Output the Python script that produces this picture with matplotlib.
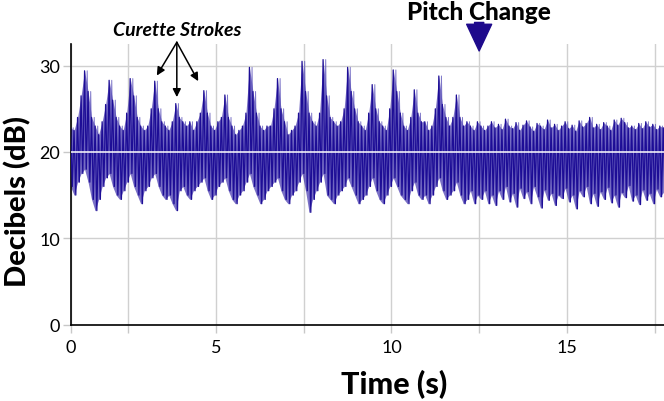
import numpy as np
import matplotlib.pyplot as plt

# envelope of the recorded signal, read per 0.1 s bin (dB)
T0, DT = 0.85, 0.1
upper = [
    22.8, 22.5, 24.0, 26.5, 29.4, 27.0, 24.0, 23.0, 22.0, 23.5,
    25.5, 28.3, 26.0, 24.0, 23.0, 22.5, 24.5, 28.5, 26.5, 24.0,
    23.0, 22.5, 23.0, 25.0, 28.2, 25.0, 23.5, 23.0, 22.5, 23.5,
    25.6, 24.0, 23.5, 23.0, 23.5, 22.5, 23.5, 24.5, 27.1, 24.5,
    23.0, 22.5, 23.5, 24.0, 26.6, 24.0, 23.0, 22.0, 22.5, 23.0,
    24.5, 29.8, 27.0, 24.5, 23.0, 22.5, 23.0, 23.0, 25.0, 28.5,
    25.0, 23.5, 22.0, 22.5, 23.0, 24.5, 30.5, 27.0, 24.5, 23.5,
    23.0, 24.5, 30.7, 26.5, 24.0, 23.5, 23.0, 23.5, 25.0, 29.8,
    27.0, 25.0, 23.5, 23.0, 22.5, 24.5, 27.8, 25.0, 23.5, 23.0,
    22.5, 25.0, 29.5, 27.0, 24.5, 23.0, 22.5, 24.0, 27.2, 24.5,
    23.5, 23.5, 22.5, 23.0, 25.0, 28.8, 25.5, 24.0, 23.0, 24.0,
    26.6, 24.0, 23.0, 23.5, 23.0, 22.5, 23.5, 23.0, 22.5, 23.0,
    23.5, 22.8, 23.2, 22.6, 23.8, 23.0, 22.7, 23.4, 22.5, 23.1,
    23.6, 22.9, 22.4, 23.3, 23.0, 22.6, 23.7, 22.8, 23.2, 22.5,
    23.0, 23.5, 22.7, 23.1, 22.4, 23.6, 22.9, 23.3, 24.0, 22.8,
    23.2, 22.6, 23.4, 23.0, 22.5, 23.7, 23.1, 23.9, 23.4, 22.8,
    23.0, 22.6, 23.3, 22.7, 23.5, 22.9, 23.2, 22.6, 23.0, 22.8,
]
lower = [
    16.0, 15.0, 16.5, 17.5, 18.0, 16.5, 14.5, 13.2, 14.5, 16.0,
    17.0, 17.5, 16.0, 15.0, 14.5, 15.5, 16.5, 17.5, 16.0, 15.0,
    14.0, 15.5, 16.0, 17.0, 17.5, 16.0, 15.0, 14.5, 15.0, 14.0,
    13.2, 15.5, 16.0, 15.0, 14.5, 15.5, 16.0, 16.5, 17.0, 15.5,
    14.5, 15.0, 16.0, 16.5, 17.0, 15.5, 14.5, 14.0, 15.0, 15.5,
    16.5, 17.5, 16.0, 15.0, 14.0, 14.5, 15.5, 16.0, 16.5, 17.0,
    15.5, 14.5, 14.0, 15.0, 15.5, 16.5, 17.5, 15.5, 13.0, 14.5,
    15.5, 16.5, 17.5, 15.0, 14.5, 14.0, 15.0, 15.5, 16.0, 17.0,
    16.0, 15.0, 14.0, 14.5, 15.0, 16.0, 17.0, 15.5, 14.5, 14.0,
    15.0, 16.0, 17.0, 16.0, 15.0, 14.5, 14.0, 15.5, 16.5, 15.0,
    14.5, 15.0, 14.0, 15.0, 16.0, 17.0, 15.5, 14.5, 15.0, 15.5,
    16.5, 15.0, 14.0, 14.5, 15.5, 14.0, 15.0, 14.5, 15.5, 14.0,
    15.0, 13.8, 15.5, 14.5, 16.0, 14.2, 15.2, 13.6, 15.8, 14.6,
    15.4, 14.0, 16.0, 14.8, 13.5, 15.6, 14.4, 15.2, 13.8, 15.0,
    14.6, 15.8, 14.2, 15.0, 13.4, 15.5, 14.8, 16.0, 14.0, 15.2,
    13.7, 15.4, 14.5, 15.9, 14.1, 15.0, 13.6, 15.3, 14.7, 16.1,
    14.3, 15.0, 13.9, 15.6, 14.4, 15.2, 14.0, 15.7, 14.8, 15.3,
]

# annotation anchors (s, dB)
stroke_label_xy = (3.88, 33.6)
stroke_origin = (3.88, 32.7)
stroke_tips = [(3.31, 28.85), (3.88, 26.35), (4.49, 28.2)]
pitch_change_t = 12.5
mean_level = 20

x_ticks = [0.855, 2.5, 5, 7.5, 10, 12.5, 15, 17.5]
x_labels = ["0", "", "5", "", "10", "", "15", ""]
y_ticks = [0, 10, 20, 30]

plt.rcParams["font.family"] = ["Lato", "DejaVu Sans"]

hi = np.array(upper)
lo = np.array(lower)
t = T0 + DT * np.arange(len(hi))

# zig-zag between the envelopes to mimic the dense waveform
xs = np.column_stack([t, t + DT / 2]).ravel()
ys = np.column_stack([hi, lo]).ravel()
ys2 = np.column_stack([lo, hi]).ravel()

fig = plt.figure(figsize=(6.64, 4.02), dpi=100)
ax = fig.add_axes([0.1065, 0.19, 0.8935, 0.698])

ax.fill_between(t, lo, hi, color="#2412a0", alpha=0.6, lw=0, zorder=2)
ax.plot(xs + DT / 4, ys2, color="#5e55bb", lw=0.7, alpha=0.8, zorder=2)
ax.plot(xs, ys, color="#1d0d96", lw=0.9, zorder=3)
ax.axhline(mean_level, color="white", lw=1.1, zorder=4)

ax.set_xlim(0.855, 17.77)
ax.set_ylim(0, 32.5)
ax.set_xticks(x_ticks)
ax.set_xticklabels(x_labels)
ax.set_yticks(y_ticks)
ax.grid(True, color="#d0d0d0", lw=1.0, zorder=0)
ax.set_axisbelow(True)
ax.tick_params(axis="both", direction="out", length=5.5, width=1.0,
               color="#c8c8c8", labelsize=13, pad=2)
ax.tick_params(axis="x", pad=5)
ax.xaxis.get_major_ticks()[0].tick1line.set_color("black")
ax.yaxis.get_major_ticks()[0].tick1line.set_color("black")
for side in ("top", "right"):
    ax.spines[side].set_visible(False)
for side in ("left", "bottom"):
    ax.spines[side].set_linewidth(1.2)

ax.set_xlabel("Time (s)", fontsize=22, fontweight=900)
ax.set_ylabel("Decibels (dB)", fontsize=21, fontweight=900)
ax.xaxis.set_label_coords(0.545, -0.158)
ax.yaxis.set_label_coords(-0.066, 0.444)

# curette stroke annotation
ax.text(*stroke_label_xy, "Curette Strokes", fontsize=14, fontweight="bold",
        style="italic", ha="center", va="baseline")
for tip in stroke_tips:
    ax.annotate("", xy=tip, xytext=stroke_origin,
                arrowprops=dict(arrowstyle="-|>", color="black", lw=1.1,
                                mutation_scale=12, shrinkA=0, shrinkB=0),
                annotation_clip=False)

# pitch change marker
ax.text(pitch_change_t, 35.4, "Pitch Change", fontsize=17.5, fontweight=900,
        ha="center", va="baseline")
ax.annotate("", xy=(pitch_change_t, 31.7), xytext=(pitch_change_t, 35.0),
            arrowprops=dict(arrowstyle="simple,head_width=1.5,head_length=1.6,tail_width=0.55",
                            color="#1e0a8c", shrinkA=0, shrinkB=0,
                            mutation_scale=12),
            annotation_clip=False)

fig.savefig("out.png", dpi=100)
